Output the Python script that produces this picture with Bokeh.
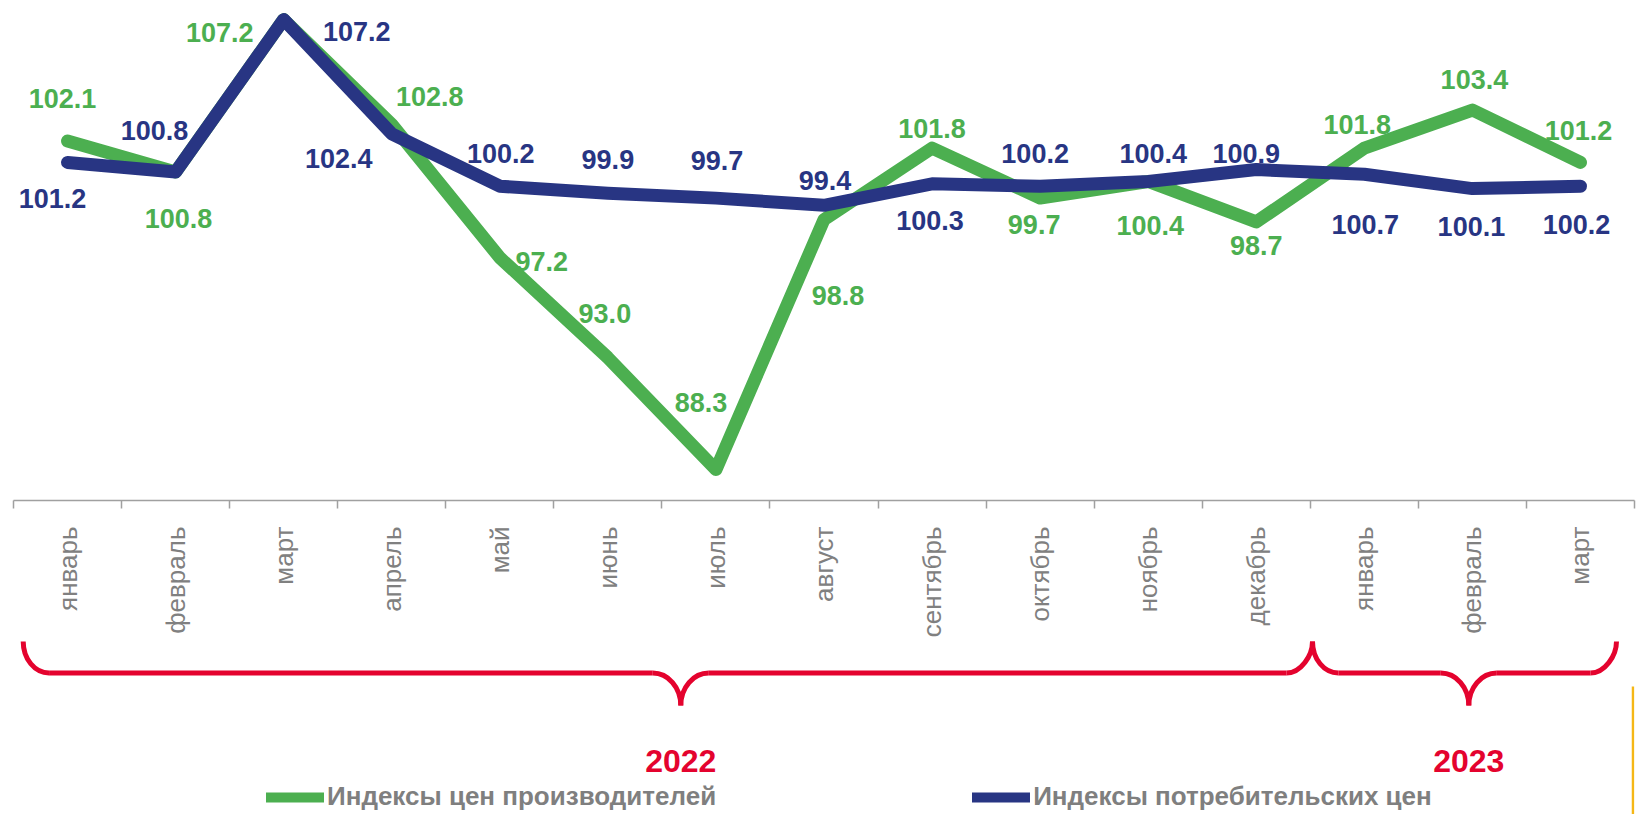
import math
from bokeh.plotting import figure
from bokeh.models import ColumnDataSource, Range1d, FixedTicker, Legend, LegendItem
from bokeh.layouts import column
from bokeh.core.properties import value
from bokeh.embed import file_html
from bokeh.resources import INLINE

# ---------------- data ----------------
months = ["январь", "февраль", "март", "апрель", "май", "июнь", "июль", "август",
          "сентябрь", "октябрь", "ноябрь", "декабрь", "январь", "февраль", "март"]
years = ["2022", "2023"]
year_first = [0, 12]
year_last = [11, 14]
ppi = [102.1, 100.8, 107.2, 102.8, 97.2, 93.0, 88.3, 98.8, 101.8, 99.7, 100.4, 98.7, 101.8, 103.4, 101.2]
cpi = [101.2, 100.8, 107.2, 102.4, 100.2, 99.9, 99.7, 99.4, 100.3, 100.2, 100.4, 100.9, 100.7, 100.1, 100.2]
ppi_name = "Индексы цен производителей"
cpi_name = "Индексы потребительских цен"

# label placement: pixel offsets of each value label from its point
ppi_dx = [-5, 3, -64, 38, 42, -3, -15, 14, 0, -6, 2, 0, -7, 2, -2]
ppi_dy = [-42, 47, 13, -28, 4, -44, -67, 76, -20, 26, 44, 24, -24, -31, -32]
cpi_dx = [-15, -21, 73, -53, 1, 0, 1, 1, -2, -5, 5, -10, 1, -1, -4]
cpi_dy = [36, -41, 12, 25, -33, -34, -38, -25, 37, -33, -28, -16, 50, 38, 38]

GREEN = "#4caf50"
NAVY = "#283583"
RED = "#e4032e"
GRAY = "#808080"
FONT = value("Liberation Sans")

n = len(months)
xs = list(range(n))

# ---------------- main chart ----------------
p = figure(width=1638, height=640, output_backend="svg", toolbar_location=None,
           x_range=Range1d(-0.5, n - 0.5), y_range=Range1d(87.0, 108.0),
           min_border_left=13, min_border_right=4, min_border_top=0, min_border_bottom=133,
           y_axis_location=None, background_fill_color="white", border_fill_color="white")
p.outline_line_color = None
p.grid.visible = False

p.line(xs, ppi, line_color=GREEN, line_width=13, line_cap="round", line_join="round")
p.line(xs, cpi, line_color=NAVY, line_width=13, line_cap="round", line_join="round")

src_p = ColumnDataSource(dict(x=xs, y=ppi, t=[f"{v:.1f}" for v in ppi], dx=ppi_dx, dy=ppi_dy))
src_c = ColumnDataSource(dict(x=xs, y=cpi, t=[f"{v:.1f}" for v in cpi], dx=cpi_dx, dy=cpi_dy))
for src, col in ((src_p, GREEN), (src_c, NAVY)):
    p.text(x="x", y="y", text="t", x_offset="dx", y_offset="dy", source=src,
           text_font=FONT, text_font_style="bold", text_font_size="27px",
           text_color=col, text_align="center", text_baseline="middle")

ax = p.xaxis[0]
ax.ticker = FixedTicker(ticks=xs, minor_ticks=[i - 0.5 for i in range(n + 1)])
ax.major_label_overrides = {i: m for i, m in enumerate(months)}
ax.major_label_orientation = math.pi / 2
ax.major_label_text_font = "Liberation Sans"
ax.major_label_text_font_size = "26px"
ax.major_label_text_color = GRAY
ax.major_label_standoff = 18
ax.major_tick_in = 0
ax.major_tick_out = 0
ax.minor_tick_in = 0
ax.minor_tick_out = 8
ax.minor_tick_line_color = "#a0a0a0"
ax.minor_tick_line_width = 1.5
ax.axis_line_color = "#a0a0a0"
ax.axis_line_width = 1.5

# ---------------- braces, years, legend ----------------
H2 = 174
q = figure(width=1638, height=H2, output_backend="svg", toolbar_location=None,
           x_range=Range1d(-0.5, n - 0.5 + 4 / 108.07), y_range=Range1d(H2, 0),
           min_border_left=13, min_border_right=0, min_border_top=0, min_border_bottom=0,
           x_axis_location=None, y_axis_location=None,
           background_fill_color="white", border_fill_color="white")
q.outline_line_color = None
q.grid.visible = False

k = 0.5523
yT, yM, yB = 1.0, 32.5, 65.0
rx, rc = 0.24, 0.26
brace_x0 = [year_first[0] - 0.41, year_last[0] + 0.55]
brace_x1 = [year_last[0] + 0.55, year_last[1] + 0.37]
brace_xc = [5.69, 13.0]

bz = dict(x0=[], y0=[], x1=[], y1=[], cx0=[], cy0=[], cx1=[], cy1=[])
sg = dict(x0=[], y0=[], x1=[], y1=[])
def add_bz(a, b, c0, c1):
    bz["x0"].append(a[0]); bz["y0"].append(a[1]); bz["x1"].append(b[0]); bz["y1"].append(b[1])
    bz["cx0"].append(c0[0]); bz["cy0"].append(c0[1]); bz["cx1"].append(c1[0]); bz["cy1"].append(c1[1])
def add_sg(a, b):
    sg["x0"].append(a[0]); sg["y0"].append(a[1]); sg["x1"].append(b[0]); sg["y1"].append(b[1])

for x0, x1, xc in zip(brace_x0, brace_x1, brace_xc):
    add_bz((x0, yT), (x0 + rx, yM), (x0, yT + k * (yM - yT)), (x0 + rx - k * rx, yM))
    add_sg((x0 + rx, yM), (xc - rc, yM))
    add_bz((xc - rc, yM), (xc, yB), (xc - rc + k * rc, yM), (xc, yB - k * (yB - yM)))
    add_bz((xc, yB), (xc + rc, yM), (xc, yB - k * (yB - yM)), (xc + rc - k * rc, yM))
    add_sg((xc + rc, yM), (x1 - rx, yM))
    add_bz((x1 - rx, yM), (x1, yT), (x1 - rx + k * rx, yM), (x1, yM - k * (yM - yT)))

q.bezier(source=ColumnDataSource(bz), x0="x0", y0="y0", x1="x1", y1="y1",
         cx0="cx0", cy0="cy0", cx1="cx1", cy1="cy1", line_color=RED, line_width=5)
q.segment(source=ColumnDataSource(sg), x0="x0", y0="y0", x1="x1", y1="y1",
          line_color=RED, line_width=5)

q.text(x=brace_xc, y=[120, 120], text=years, text_font=FONT, text_font_style="bold",
       text_font_size="32px", text_color=RED, text_align="center", text_baseline="middle")

# small yellow mark at the right edge
q.segment(x0=[n - 0.5 + 2.5 / 108.07], y0=[46], x1=[n - 0.5 + 2.5 / 108.07], y1=[174],
          line_color="#f5b716", line_width=2.5)

# legend swatch renderers (kept outside the visible area)
r1 = q.line([-5, -4], [500, 500], line_color=GREEN, line_width=10, line_cap="round")
r2 = q.line([-5, -4], [500, 500], line_color=NAVY, line_width=10, line_cap="round")
legend = Legend(items=[LegendItem(label=ppi_name, renderers=[r1]),
                       LegendItem(label=cpi_name, renderers=[r2])],
                location=(253, 2), orientation="horizontal",
                padding=0, margin=0, spacing=256, glyph_width=58, glyph_height=20,
                label_standoff=3, border_line_alpha=0, background_fill_alpha=0,
                label_text_font="Liberation Sans", label_text_font_style="bold",
                label_text_font_size="26px", label_text_color="#7f7f7f")
q.add_layout(legend)

layout = column(p, q, spacing=0)
open("out.html", "w").write(file_html(layout, INLINE))
